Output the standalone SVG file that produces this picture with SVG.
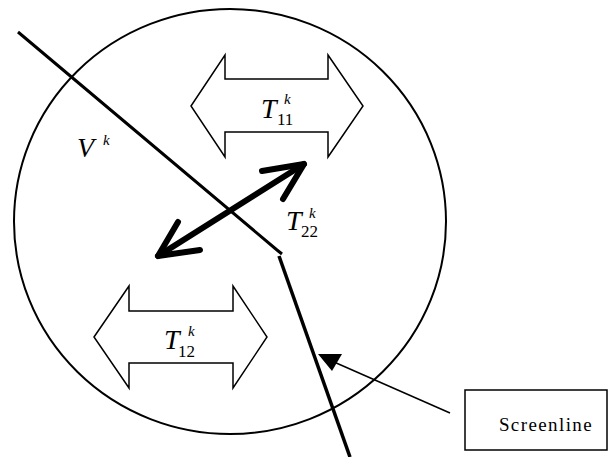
<svg xmlns="http://www.w3.org/2000/svg" width="615" height="457" viewBox="0 0 615 457">
<style>
.thin{fill:none;stroke:#000;stroke-width:1.5;stroke-linejoin:miter}
.math{font-family:"Liberation Serif","Times New Roman","DejaVu Serif",serif;font-style:italic;fill:#000}
.sub{font-family:"Liberation Serif","Times New Roman","DejaVu Serif",serif;font-style:normal;fill:#000}
.lbl{font-family:"Liberation Serif","Times New Roman","DejaVu Serif",serif;fill:#000}
</style>
<rect width="615" height="457" fill="#fff"/>
<g id="region">
<ellipse cx="230" cy="221.5" rx="216" ry="212.5" fill="none" stroke="#000" stroke-width="2"/>
<text class="math" x="77" y="157" font-size="28">V</text>
<text class="math" x="103" y="145" font-size="15">k</text>
</g>
<g id="T11">
<polygon class="thin" points="191,106 225,55 225,79 328,79 328,55 363,106 328,157 328,132 225,132 225,157"/>
<text class="math" x="261" y="118" font-size="28">T</text>
<text class="math" x="284" y="104" font-size="15">k</text>
<text class="sub" x="277" y="125" font-size="17">11</text>
</g>
<g id="T12">
<polygon class="thin" points="94,337 129,286 129,311 233,311 233,286 267,337 233,388 233,363 129,363 129,388"/>
<text class="math" x="164" y="349" font-size="28">T</text>
<text class="math" x="188" y="336" font-size="15">k</text>
<text class="sub" x="178" y="357" font-size="17">12</text>
</g>
<g id="T22">
<text class="math" x="286" y="230" font-size="28">T</text>
<text class="math" x="309" y="218" font-size="15">k</text>
<text class="sub" x="301" y="237" font-size="17">22</text>
</g>
<g id="screenline-box">
<rect x="465" y="390" width="142" height="60" fill="#fff" stroke="#000" stroke-width="1.5"/>
<text class="lbl" x="546" y="431" font-size="19" letter-spacing="1.4" text-anchor="middle">Screenline</text>
</g>
<g id="connectors">
<path d="M18,32 L277,250 L282,254" fill="none" stroke="#000" stroke-width="3"/>
<path d="M279,256 L350,457" fill="none" stroke="#000" stroke-width="3.5"/>
<g fill="none" stroke="#000" stroke-width="6" stroke-linecap="round" stroke-linejoin="round">
<path d="M158,256 L304,164"/>
<path d="M178,222 L158,256 L200,250"/>
<path d="M262,171 L304,164 L283,199"/>
</g>
<path d="M450,413 L334,362" fill="none" stroke="#000" stroke-width="1.5"/>
<polygon points="318,354 342,354 332,371" fill="#000"/>
</g>
</svg>
